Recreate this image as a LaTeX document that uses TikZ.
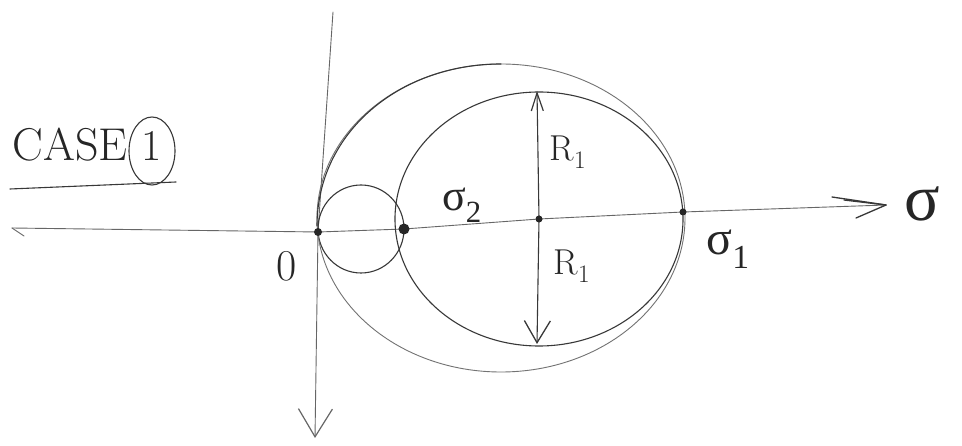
\documentclass[tikz,border=0pt]{standalone}
\usepackage{fontspec}
\newfontfamily\gkfont{Liberation Serif}
\usetikzlibrary{arrows.meta}
\begin{document}
\begin{tikzpicture}[x=1pt,y=-1pt,
  pencil/.style={draw=black!78,line width=1.1pt,line cap=round,line join=round},
  faint/.style={draw=black!55,line width=0.9pt,line cap=round},
  axisline/.style={draw=black!60,line width=0.9pt,line cap=round},
  dotmark/.style={circle,fill=black!85,inner sep=0pt,minimum size=#1},
  lbl/.style={inner sep=0pt,text=black!85},
]
\useasboundingbox (0,0) rectangle (962,446);
\fill[white] (0,0) rectangle (962,446);

% key points
\coordinate (O) at (318,232);
\coordinate (S2) at (404,229);
\coordinate (C) at (539,219);
\coordinate (S1) at (683,212);
\coordinate (Lend) at (12,228);
\coordinate (Rend) at (886,205);
\coordinate (Vtop) at (333,12);
\coordinate (Vbot) at (315,438);
\coordinate (Rtop) at (537,91);
\coordinate (Rbot) at (537,344);

% sigma axis
\draw[axisline] (Lend) -- (O) -- (S2) -- (C) -- (S1) -- (Rend);
\draw[axisline] (Lend) -- (24,236);
\draw[pencil,line width=1.3pt] (Rend) -- (832,197);
\draw[pencil,line width=1.3pt] (Rend) -- (856,218);
\draw[pencil,line width=1.3pt] (844,200) -- (Rend);

% tau axis (downwards)
\draw[axisline] (Vtop) -- (O);
\draw[axisline,-{Straight Barb[length=28pt,width=34pt,line width=1.2pt]}] (O) -- (Vbot);

% circles
\draw[pencil] (361,229) ellipse[x radius=43,y radius=44];
\draw[pencil] (C) ellipse[x radius=144,y radius=127];
\draw[faint] (501,218) ellipse[x radius=184,y radius=154];
\draw[pencil] (317,226) .. controls (317,133) and (399,64) .. (501,64);

% radius arrows
\draw[pencil,-{Straight Barb[length=18pt,width=12pt,line width=1.2pt]}] (C) -- (Rtop);
\draw[pencil,-{Straight Barb[length=22pt,width=26pt,line width=1.3pt]}] (C) -- (Rbot);

% dots
\node[dotmark=8pt] (dO) at (O) {};
\node[dotmark=11pt] (dS2) at (S2) {};
\node[dotmark=7pt] (dC) at (C) {};
\node[dotmark=7pt] (dS1) at (S1) {};

% labels
\node[lbl,font=\fontsize{46}{46}\selectfont] (case) at (70,145) {CASE};
\node[lbl,font=\fontsize{44}{44}\selectfont] (one) at (152,146) {1};
\draw[pencil] (152,151) ellipse[x radius=23,y radius=34];
\draw[pencil] (10,189) -- (176,182);

\node[lbl,font=\fontsize{44}{44}\selectfont] (lO) at (287,266) {0};
\node[lbl,font=\fontsize{44}{44}\selectfont\gkfont] (ls2) at (462,205) {σ\textsubscript{2}};
\node[lbl,font=\fontsize{36}{36}\selectfont] (lr1a) at (568,152) {R\textsubscript{1}};
\node[lbl,font=\fontsize{36}{36}\selectfont] (lr1b) at (572,266) {R\textsubscript{1}};
\node[lbl,font=\fontsize{48}{48}\selectfont\gkfont] (ls1) at (728,249) {σ\textsubscript{1}};
\node[lbl,font=\fontsize{66}{66}\selectfont\gkfont] (lsig) at (922,204) {σ};
\end{tikzpicture}
\end{document}
